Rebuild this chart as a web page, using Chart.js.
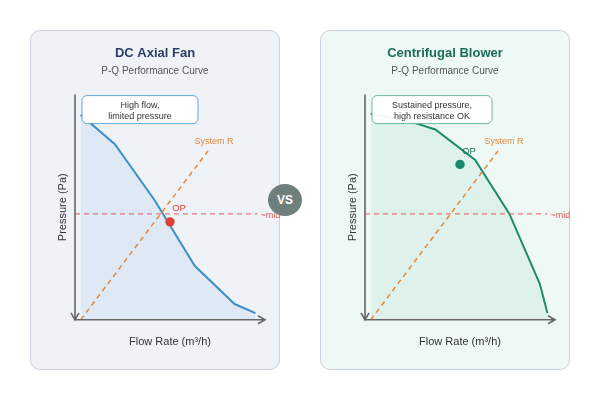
<!DOCTYPE html>
<html>
<head>
<meta charset="utf-8">
<title>DC Axial Fan vs Centrifugal Blower</title>
<script src="https://cdn.jsdelivr.net/npm/chart.js@4.4.1/dist/chart.umd.min.js"></script>
<style>
    body { margin: 0; width: 600px; height: 400px; background: #fff; position: relative; overflow: hidden; }
    .panel { position: absolute; top: 30px; width: 250px; height: 340px; box-sizing: border-box; border: 1px solid #cdd1df; border-radius: 10px; }
    #axialPanel { left: 30px; background: #eff2f7; }
    #blowerPanel { left: 320px; background: #eef8f4; }
    canvas { position: absolute; top: 30px; }
    #axialChart { left: 30px; }
    #blowerChart { left: 320px; }
    .vs {
        position: absolute; left: 268px; top: 184px; width: 34px; height: 32px; border-radius: 50%;
        background: #6f7f7b; color: #fff; font: bold 12px "Liberation Sans", Arial, sans-serif;
        display: flex; align-items: center; justify-content: center;
    }
</style>
</head>
<body>
<div class="panel" id="axialPanel"></div>
<div class="panel" id="blowerPanel"></div>
<canvas id="axialChart" width="250" height="340"></canvas>
<canvas id="blowerChart" width="250" height="340"></canvas>
<div class="vs">VS</div>

<script>
// Curve data (flow and pressure in relative units, 0-100)
const axialFlow = [3, 21, 42, 63, 84, 95];
const axialPressure = [91, 78, 53, 24, 7, 3];
const blowerFlow = [3, 24, 37, 58, 76, 92, 96];
const blowerPressure = [91.5, 88, 84.5, 71, 47, 16, 3];

// System resistance line and mid reference
const systemFlow = [3, 70];
const systemPressure = [0, 75];
const midFlow = [0, 96];
const midPressure = [47, 47];

// Operating points [flow, pressure]
const axialOp = [50, 43.5];
const blowerOp = [50, 69];

Chart.defaults.font.family = '"Liberation Sans", Arial, sans-serif';

const toPoints = (xs, ys) => xs.map((x, i) => ({ x: x, y: ys[i] }));

// Draws axes arrows, labels and the note box
const decorPlugin = {
    id: 'decor',
    afterDatasetsDraw(chart, args, opts) {
        const { ctx, chartArea: a } = chart;
        ctx.save();

        // Axes with arrows
        ctx.strokeStyle = '#666';
        ctx.lineWidth = 1.6;
        ctx.beginPath();
        ctx.moveTo(a.left, a.top);
        ctx.lineTo(a.left, a.bottom);
        ctx.lineTo(a.right, a.bottom);
        ctx.moveTo(a.left - 4, a.bottom - 7);
        ctx.lineTo(a.left, a.bottom);
        ctx.lineTo(a.left + 4, a.bottom - 7);
        ctx.moveTo(a.right - 7, a.bottom - 4);
        ctx.lineTo(a.right, a.bottom);
        ctx.lineTo(a.right - 7, a.bottom + 4);
        ctx.stroke();

        ctx.textBaseline = 'middle';

        // OP label
        const op = chart.getDatasetMeta(0).data[0];
        ctx.font = '9.5px "Liberation Sans", Arial, sans-serif';
        ctx.fillStyle = opts.opColor;
        ctx.textAlign = 'center';
        ctx.fillText('OP', op.x + 9, op.y - 13);

        // ~mid label
        const midEnd = chart.getDatasetMeta(1).data[1];
        ctx.font = '9px "Liberation Sans", Arial, sans-serif';
        ctx.fillStyle = '#e05a5a';
        ctx.textAlign = 'left';
        ctx.fillText('~mid', midEnd.x + 3, midEnd.y + 2);

        // System R label
        const sysEnd = chart.getDatasetMeta(2).data[1];
        ctx.fillStyle = '#e08a3c';
        ctx.textAlign = 'center';
        ctx.fillText('System R', sysEnd.x + 6, sysEnd.y - 9);

        // Note box
        const bx = a.left + 7, by = a.top + 1, bw = opts.noteWidth, bh = 28;
        ctx.beginPath();
        ctx.roundRect(bx, by, bw, bh, 5);
        ctx.fillStyle = 'rgba(255,255,255,0.95)';
        ctx.fill();
        ctx.strokeStyle = opts.noteBorder;
        ctx.lineWidth = 1;
        ctx.stroke();
        ctx.fillStyle = '#333';
        ctx.textAlign = 'center';
        ctx.fillText(opts.note[0], bx + bw / 2, by + 9.5);
        ctx.fillText(opts.note[1], bx + bw / 2, by + 21);

        ctx.restore();
    }
};

function makeChart(canvasId, cfg) {
    return new Chart(document.getElementById(canvasId), {
        type: 'line',
        data: {
            datasets: [
                {
                    label: 'OP',
                    data: [{ x: cfg.op[0], y: cfg.op[1] }],
                    showLine: false,
                    pointRadius: 4.7,
                    pointBorderWidth: 0,
                    pointBackgroundColor: cfg.opColor
                },
                {
                    label: '~mid',
                    data: toPoints(midFlow, midPressure),
                    borderColor: 'rgba(230, 100, 100, 0.85)',
                    borderWidth: 1.2,
                    borderDash: [5, 4],
                    pointRadius: 0,
                    fill: false
                },
                {
                    label: 'System R',
                    data: toPoints(systemFlow, systemPressure),
                    borderColor: '#e08a3c',
                    borderWidth: 1.5,
                    borderDash: [5, 4],
                    pointRadius: 0,
                    fill: false
                },
                {
                    label: cfg.title,
                    data: toPoints(cfg.flow, cfg.pressure),
                    borderColor: cfg.lineColor,
                    backgroundColor: cfg.fillColor,
                    borderWidth: 2,
                    pointRadius: 0,
                    tension: 0,
                    fill: 'origin'
                }
            ]
        },
        options: {
            responsive: false,
            animation: false,
            layout: { padding: { top: 0, right: 15, bottom: 17, left: 15 } },
            plugins: {
                legend: { display: false },
                tooltip: { enabled: false },
                title: {
                    display: true,
                    text: cfg.title,
                    color: cfg.titleColor,
                    font: { size: 13, weight: 'bold' },
                    padding: { top: 16, bottom: 4 }
                },
                subtitle: {
                    display: true,
                    text: 'P-Q Performance Curve',
                    color: '#555',
                    font: { size: 10 },
                    padding: { top: 0, bottom: 17 }
                },
                decor: {
                    opColor: cfg.opLabelColor,
                    note: cfg.note,
                    noteWidth: cfg.noteWidth,
                    noteBorder: cfg.noteBorder
                }
            },
            scales: {
                x: {
                    type: 'linear',
                    min: 0,
                    max: 100,
                    grid: { display: false, drawTicks: false },
                    border: { display: false },
                    ticks: { display: false },
                    title: {
                        display: true,
                        text: 'Flow Rate (m³/h)',
                        color: '#333',
                        font: { size: 11 },
                        padding: { top: 16, bottom: 4 }
                    }
                },
                y: {
                    min: 0,
                    max: 100,
                    grid: { display: false, drawTicks: false },
                    border: { display: false },
                    ticks: { display: false },
                    title: {
                        display: true,
                        text: 'Pressure (Pa)',
                        color: '#333',
                        font: { size: 11 },
                        padding: { top: 11.4, bottom: 5.4 }
                    }
                }
            }
        },
        plugins: [decorPlugin]
    });
}

makeChart('axialChart', {
    title: 'DC Axial Fan',
    titleColor: '#2c3d68',
    flow: axialFlow,
    pressure: axialPressure,
    lineColor: '#3d8fc6',
    fillColor: 'rgba(140, 190, 235, 0.17)',
    op: axialOp,
    opColor: '#e2403a',
    opLabelColor: '#e2403a',
    note: ['High flow,', 'limited pressure'],
    noteWidth: 116,
    noteBorder: '#5fa8d3'
});

makeChart('blowerChart', {
    title: 'Centrifugal Blower',
    titleColor: '#1d6b5a',
    flow: blowerFlow,
    pressure: blowerPressure,
    lineColor: '#1f8a6c',
    fillColor: 'rgba(70, 185, 145, 0.09)',
    op: blowerOp,
    opColor: '#1a8a6a',
    opLabelColor: '#1d6b5a',
    note: ['Sustained pressure,', 'high resistance OK'],
    noteWidth: 120,
    noteBorder: '#6ab8a0'
});
</script>
</body>
</html>
